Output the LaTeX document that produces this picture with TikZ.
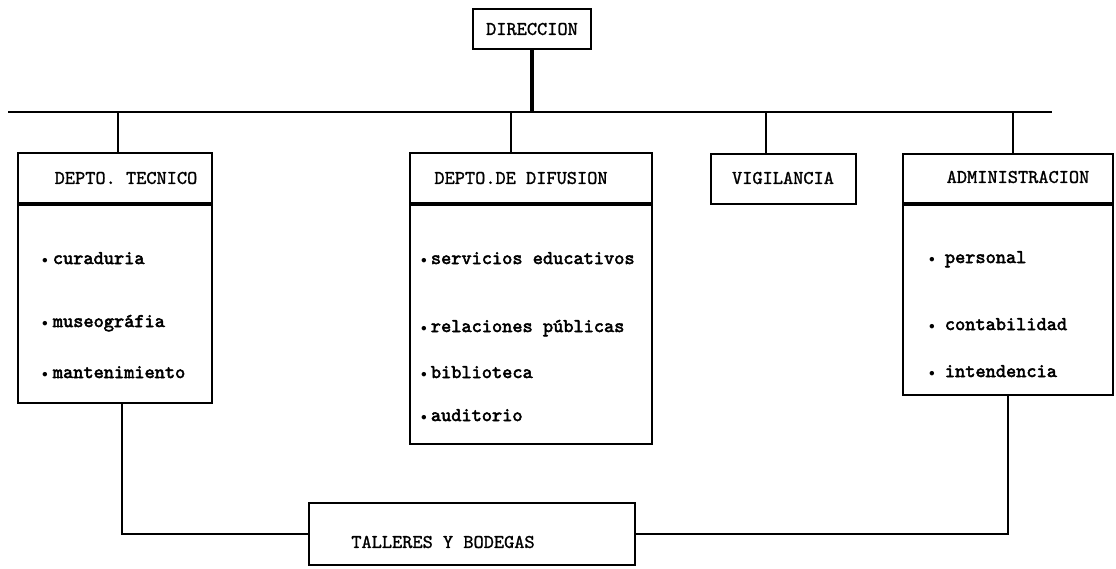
\documentclass[tikz,border=0pt]{standalone}
\usepackage{fontspec}
\usepackage{graphicx}
\newfontfamily\hdfont{lmmono10-regular.otf}[FakeBold=1.2]
\newfontfamily\itfont{lmmono10-regular.otf}[FakeBold=2.6]
\newcommand\itembul[1]{\raisebox{0.5pt}{\scalebox{0.55}{$\bullet$}}\hspace{#1}}
\begin{document}
\begin{tikzpicture}[x=1pt,y=-1pt,
  box/.style={draw,line width=1.9pt,inner sep=0pt},
  wire/.style={line width=1.9pt},
  stem/.style={line width=4.2pt},
  hd/.style={font=\hdfont\fontsize{19.4}{20}\selectfont,inner sep=0pt},
  it/.style={font=\itfont\fontsize{19.4}{20}\selectfont,inner sep=0pt,anchor=base west}]
\useasboundingbox (0,0) rectangle (1116,568);
\fill[white] (0,0) rectangle (1116,568);

% DIRECCION
\node[box,minimum width=118pt,minimum height=40pt] (dir) at (532,29) {};
\node[hd] (dirl) at (532,29) {DIRECCION};

% bus
\coordinate (busL) at (8,112);
\coordinate (busR) at (1052,112);
\draw[wire] (busL) -- (busR);
\draw[stem] (dir.south) -- (dir.south |- busL);

% DEPTO TECNICO
\node[box,minimum width=194pt,minimum height=50pt] (tech) at (115,178) {};
\node[box,minimum width=194pt,minimum height=198pt,anchor=north] (tecb) at (tech.south) {};
\node[hd] (techl) at (126,178) {DEPTO. TECNICO};
\node[it] (t1) at (42,264) {\itembul{5pt}curaduria};
\node[it] (t2) at (42,327) {\itembul{5pt}museográfia};
\node[it] (t3) at (42,378) {\itembul{5pt}mantenimiento};

% DEPTO DE DIFUSION
\node[box,minimum width=242pt,minimum height=50pt] (difh) at (531,178) {};
\node[box,minimum width=242pt,minimum height=239pt,anchor=north] (difb) at (difh.south) {};
\node[hd] (difl) at (521,178) {DEPTO.DE DIFUSION};
\node[it] (d1) at (421,264) {\itembul{4pt}servicios educativos};
\node[it] (d2) at (421,332) {\itembul{4pt}relaciones públicas};
\node[it] (d3) at (421,378) {\itembul{4pt}biblioteca};
\node[it] (d4) at (421,421) {\itembul{4pt}auditorio};

% VIGILANCIA
\node[box,minimum width=145pt,minimum height=50pt] (vig) at (783.5,179) {};
\node[hd] (vigl) at (783,178) {VIGILANCIA};

% ADMINISTRACION
\node[box,minimum width=210pt,minimum height=49pt] (admh) at (1008,178.5) {};
\node[box,minimum width=210pt,minimum height=190pt,anchor=north] (admb) at (admh.south) {};
\node[hd] (adml) at (1018,177) {ADMINISTRACION};
\node[it] (a1) at (929,263) {\itembul{10pt}personal};
\node[it] (a2) at (929,330) {\itembul{10pt}contabilidad};
\node[it] (a3) at (929,377) {\itembul{10pt}intendencia};

% drops from bus
\coordinate (k1) at (118,112);
\coordinate (k2) at (511,112);
\coordinate (k3) at (766,112);
\coordinate (k4) at (1013,112);
\draw[wire] (k1) -- (k1 |- tech.north);
\draw[wire] (k2) -- (k2 |- difh.north);
\draw[wire] (k3) -- (k3 |- vig.north);
\draw[wire] (k4) -- (k4 |- admh.north);

% TALLERES Y BODEGAS
\node[box,minimum width=326pt,minimum height=62pt] (tal) at (472,534) {};
\node[hd] (tall) at (443,542) {TALLERES Y BODEGAS};

% bottom connectors
\draw[line width=2.2pt] ([xshift=7pt]tecb.south) |- (tal.west);
\draw[line width=2.2pt] (admb.south) |- (tal.east);
\end{tikzpicture}
\end{document}
